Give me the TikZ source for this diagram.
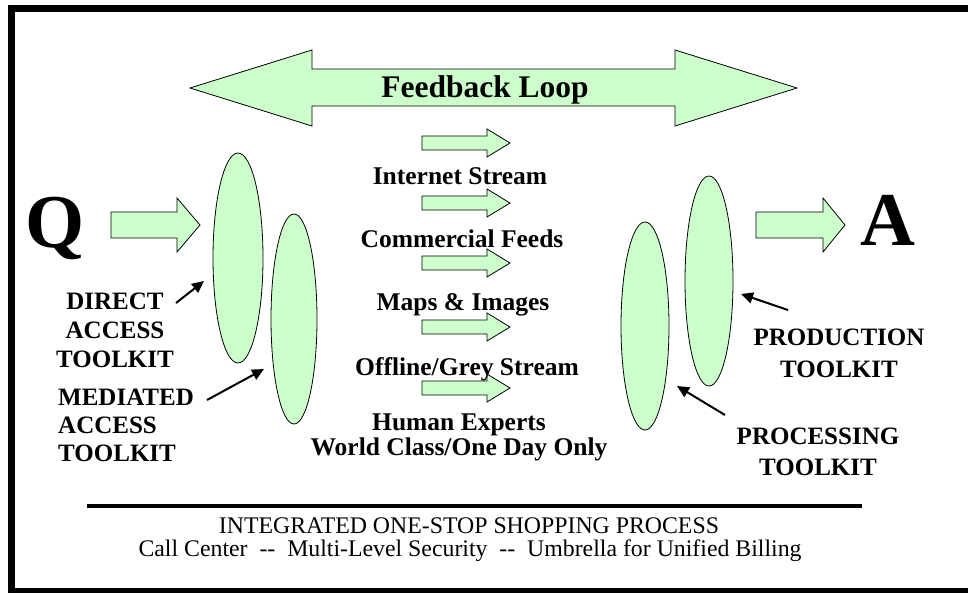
\documentclass[tikz,border=0pt]{standalone}
\usepackage{fontspec}
\setmainfont{Liberation Serif}
\usetikzlibrary{shapes.geometric,arrows.meta}
\definecolor{lgreen}{HTML}{CCFFCC}
\begin{document}
\begin{tikzpicture}[x=1pt,y=-1pt,
  shapefill/.style={fill=lgreen, draw=black, line width=0.8pt},
  tk/.style={ellipse, shapefill, inner sep=0pt},
  lbl/.style={font=\bfseries\fontsize{25}{29}\selectfont, inner sep=0pt, align=center},
  stream/.style={font=\bfseries\fontsize{25.5}{29}\selectfont, inner sep=0pt, anchor=base},
  big/.style={font=\bfseries\fontsize{76}{76}\selectfont, inner sep=0pt, anchor=base},
  foot/.style={font=\fontsize{23.8}{26}\selectfont, inner sep=0pt, anchor=base},
  ptr/.style={line width=2pt, -{Triangle[length=12pt,width=11pt]}}]

\useasboundingbox (0,0) rectangle (968,592);
\clip (0,0) rectangle (968,592);
\fill[white] (0,0) rectangle (968,592);
\draw[line width=7pt] (11.5,8.5) rectangle (985,591.5);

% feedback loop
\draw[shapefill] (190,88) -- (312,50) -- (312,69) -- (675,69) -- (675,50) -- (797,88)
  -- (675,126) -- (675,106) -- (312,106) -- (312,126) -- cycle;
\node[stream, font=\bfseries\fontsize{31.5}{34}\selectfont] (fb) at (485,97) {Feedback Loop};

% Q and A
\node[big] (Q) at (55,247) {Q};
\node[big] (A) at (888,245) {A};
\draw[shapefill] (111,212) -- (177,212) -- (177,198) -- (200,225) -- (177,252) -- (177,238) -- (111,238) -- cycle;
\draw[shapefill] (756,212) -- (823,212) -- (823,198) -- (845,225) -- (823,252) -- (823,238) -- (756,238) -- cycle;

% toolkits
\node[tk, minimum width=50pt, minimum height=210pt] (direct) at (238,258) {};
\node[tk, minimum width=46pt, minimum height=210pt] (mediated) at (294,319) {};
\node[tk, minimum width=48pt, minimum height=208pt] (processing) at (645,326) {};
\node[tk, minimum width=48pt, minimum height=210pt] (production) at (709,281) {};

% small stream arrows
\foreach \c in {143,203,263,327,388}{
  \draw[shapefill] (422,\c-7) -- (487,\c-7) -- (487,\c-14) -- (510,\c) -- (487,\c+14) -- (487,\c+7) -- (422,\c+7) -- cycle;
}

% stream labels
\node[stream] (s1) at (460,184) {Internet Stream};
\node[stream] (s2) at (462,247) {Commercial Feeds};
\node[stream] (s3) at (463,310) {Maps \& Images};
\node[stream] (s4) at (467,375) {Offline/Grey Stream};
\node[stream] (s5) at (459,430) {Human Experts};
\node[stream] (s6) at (459,455) {World Class/One Day Only};

% toolkit labels
\node[lbl] (dl) at (115,330) {DIRECT\\ACCESS\\TOOLKIT};
\node[lbl, align=left, anchor=west, font=\bfseries\fontsize{25}{28}\selectfont] (ml) at (58,425) {MEDIATED\\ACCESS\\TOOLKIT};
\node[lbl, font=\bfseries\fontsize{25}{32}\selectfont] (pl) at (839,353) {PRODUCTION\\TOOLKIT};
\node[lbl, font=\bfseries\fontsize{25}{31}\selectfont] (rl) at (818,452) {PROCESSING\\TOOLKIT};

% pointers
\coordinate (d0) at (176,303); \coordinate (d1) at (204,281);
\coordinate (m0) at (207,400); \coordinate (m1) at (264,369);
\coordinate (p0) at (788,310); \coordinate (p1) at (741,294);
\coordinate (r0) at (725,415); \coordinate (r1) at (677,386);
\draw[ptr] (d0) -- (d1);
\draw[ptr] (m0) -- (m1);
\draw[ptr] (p0) -- (p1);
\draw[ptr] (r0) -- (r1);

% footer
\coordinate (rl0) at (87,506); \coordinate (rl1) at (862,506);
\draw[line width=4pt] (rl0) -- (rl1);
\node[foot] (f1) at (469,533) {INTEGRATED ONE-STOP SHOPPING PROCESS};
\node[foot] (f2) at (470,556) {Call Center~~{-}{-}~~Multi-Level Security~~{-}{-}~~Umbrella for Unified Billing};
\end{tikzpicture}
\end{document}
